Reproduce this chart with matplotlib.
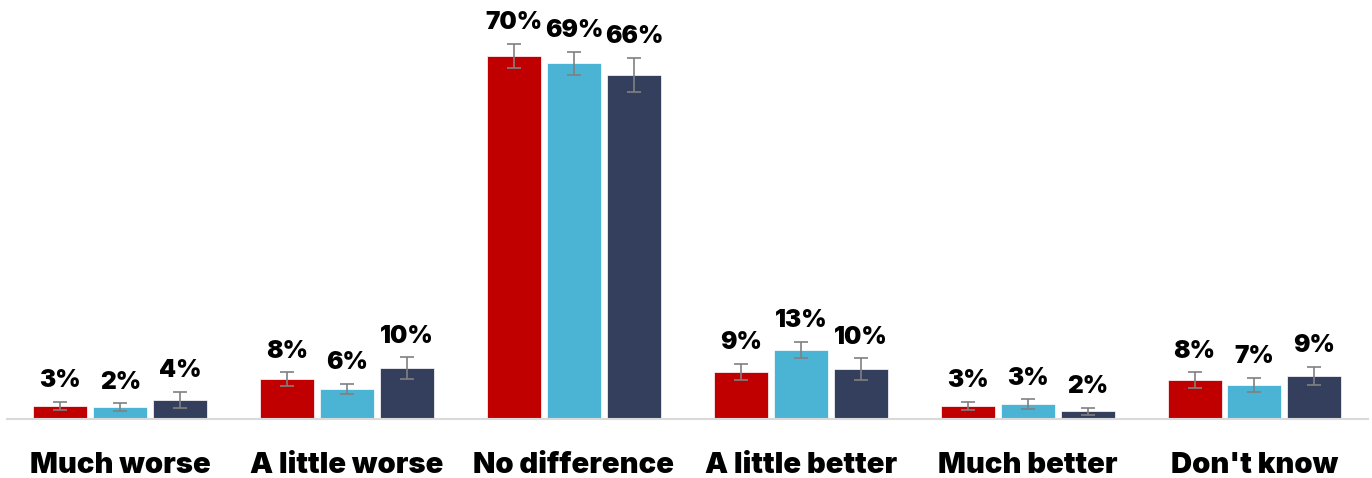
import numpy as np
import matplotlib.pyplot as plt

plt.rcParams['font.family'] = ['Inter', 'DejaVu Sans']

categories = ['Much worse', 'A little worse', 'No difference', 'A little better', 'Much better', "Don't know"]
red_vals = [2.5, 7.7, 70.0, 9.1, 2.5, 7.5]
cyan_vals = [2.3, 5.8, 68.6, 13.3, 2.9, 6.6]
navy_vals = [3.7, 9.8, 66.3, 9.6, 1.5, 8.3]
red_err = [0.8, 1.3, 2.3, 1.5, 0.8, 1.5]
cyan_err = [0.7, 1.0, 2.2, 1.6, 0.9, 1.3]
navy_err = [1.5, 2.1, 3.3, 2.1, 0.7, 1.7]
red_labels = ['3%', '8%', '70%', '9%', '3%', '8%']
cyan_labels = ['2%', '6%', '69%', '13%', '3%', '7%']
navy_labels = ['4%', '10%', '66%', '10%', '2%', '9%']

colors = ['#C00000', '#4BB3D4', '#333F5C']

fig = plt.figure(figsize=(13.72, 4.78), dpi=100)
ax = fig.add_axes([0.005, 0.1234, 0.992, 0.868])

x = np.arange(len(categories))
slot = 0.264
width = 0.238

series = [(red_vals, red_err, red_labels), (cyan_vals, cyan_err, cyan_labels),
          (navy_vals, navy_err, navy_labels)]
for i, (vals, errs, labels) in enumerate(series):
    pos = x + (i - 1) * slot
    ax.bar(pos, vals, width, color=colors[i], edgecolor='white', linewidth=0.5, zorder=2)
    ax.errorbar(pos, vals, yerr=errs, fmt='none', ecolor='#808080', elinewidth=1.2,
                capsize=5, capthick=1.2, zorder=3)
    for p, v, e, lab in zip(pos, vals, errs, labels):
        ax.annotate(lab, (p, v + e), xytext=(0, 7), textcoords='offset points',
                    ha='center', va='bottom', fontsize=17.5, fontweight='black')

ax.set_xlim(-0.5, 5.5)
ax.set_ylim(0, 80)
ax.set_yticks([])
ax.set_xticks(x)
ax.set_xticklabels(categories, fontsize=21, fontweight='black')
ax.tick_params(axis='x', length=0, pad=24)
for s in ['top', 'right', 'left']:
    ax.spines[s].set_visible(False)
ax.spines['bottom'].set_color('#D9D9D9')
ax.spines['bottom'].set_linewidth(1.5)

fig.savefig('out.png', dpi=100)
